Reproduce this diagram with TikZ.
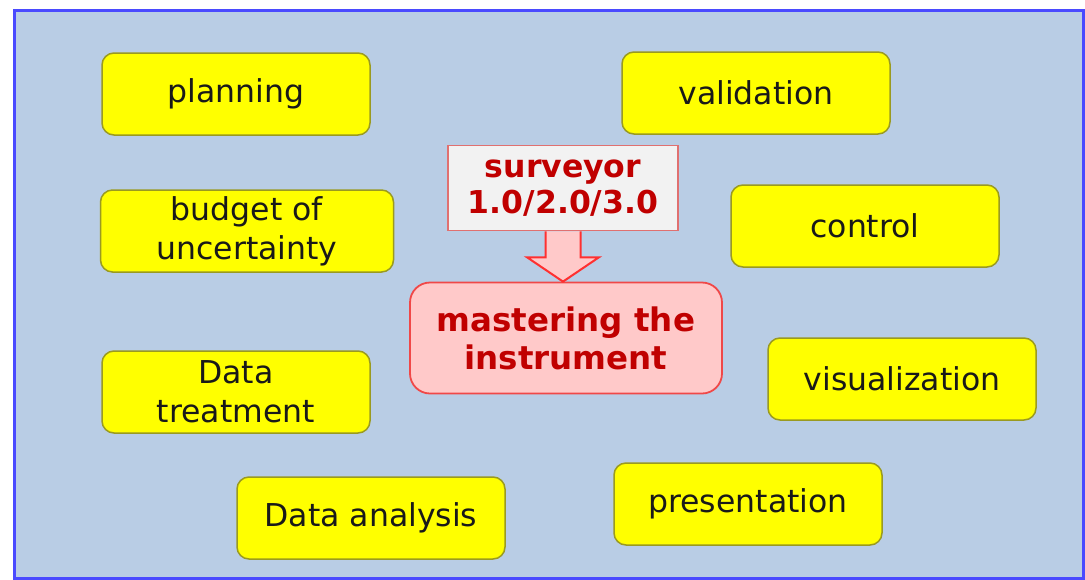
\documentclass[tikz,border=0pt]{standalone}
\usepackage{fontspec}
\setmainfont{DejaVu Sans}
\usetikzlibrary{calc}

\definecolor{bgblue}{HTML}{B9CDE5}
\definecolor{frameblue}{HTML}{4A4AFF}
\definecolor{boxyellow}{HTML}{FFFF00}
\definecolor{boxedge}{HTML}{9A9A20}
\definecolor{coreedge}{HTML}{F04848}
\definecolor{corefill}{HTML}{FFC9C9}
\definecolor{coretext}{HTML}{C00000}
\definecolor{svfill}{HTML}{F2F2F2}
\definecolor{svedge}{HTML}{E07070}
\definecolor{arrowedge}{HTML}{FF3030}

\def\shafthw{17.5}
\def\headhw{36}

\tikzset{
  task/.style={draw=boxedge, fill=boxyellow, line width=1.5pt, rounded corners=12pt,
    minimum width=268pt, minimum height=82pt, align=center,
    font=\fontsize{31.5}{39}\selectfont, text=black!90},
  core/.style={draw=coreedge, fill=corefill, line width=1.8pt, rounded corners=20pt,
    minimum width=312pt, minimum height=111pt, align=center,
    font=\fontsize{32.5}{38}\selectfont\bfseries, text=coretext},
  versionbox/.style={draw=svedge, fill=svfill, line width=1.5pt,
    minimum width=230pt, minimum height=85pt, align=center,
    font=\fontsize{31.5}{36}\selectfont\bfseries, text=coretext},
}

\begin{document}
\begin{tikzpicture}[x=1pt, y=-1pt]
        \useasboundingbox (0,0) rectangle (1085,579);
        % frame
        \draw[frameblue, line width=3pt, fill=bgblue] (14,10) rectangle (1083,578);
        % left column
        \node[task] (planning) at (236,94) {planning};
        \node[task, minimum width=293pt] (budget) at (247,231) {budget of\\uncertainty};
        \node[task] (treatment) at (236,392) {Data\\treatment};
        \node[task] (analysis) at (371,518) {Data analysis};
        % right column
        \node[task] (validation) at (756,93) {validation};
        \node[task] (control) at (865,226) {control};
        \node[task] (visual) at (902,379) {visualization};
        \node[task] (present) at (748,504) {presentation};
        % centre
        \node[versionbox] (surveyor) at (563,188) {surveyor\\1.0/2.0/3.0};
        \node[core] (master) at (566,338) {mastering the\\instrument};
        % block arrow from surveyor to centre
        \draw[arrowedge, fill=corefill, line width=2pt, line join=miter]
          ($(surveyor.south)+(-\shafthw,0)$) -- ($(surveyor.south)+(-\shafthw,26)$)
          -- ($(surveyor.south)+(-\headhw,26)$) -- (surveyor.south |- master.north)
          -- ($(surveyor.south)+(\headhw,26)$) -- ($(surveyor.south)+(\shafthw,26)$)
          -- ($(surveyor.south)+(\shafthw,0)$);
\end{tikzpicture}
\end{document}
